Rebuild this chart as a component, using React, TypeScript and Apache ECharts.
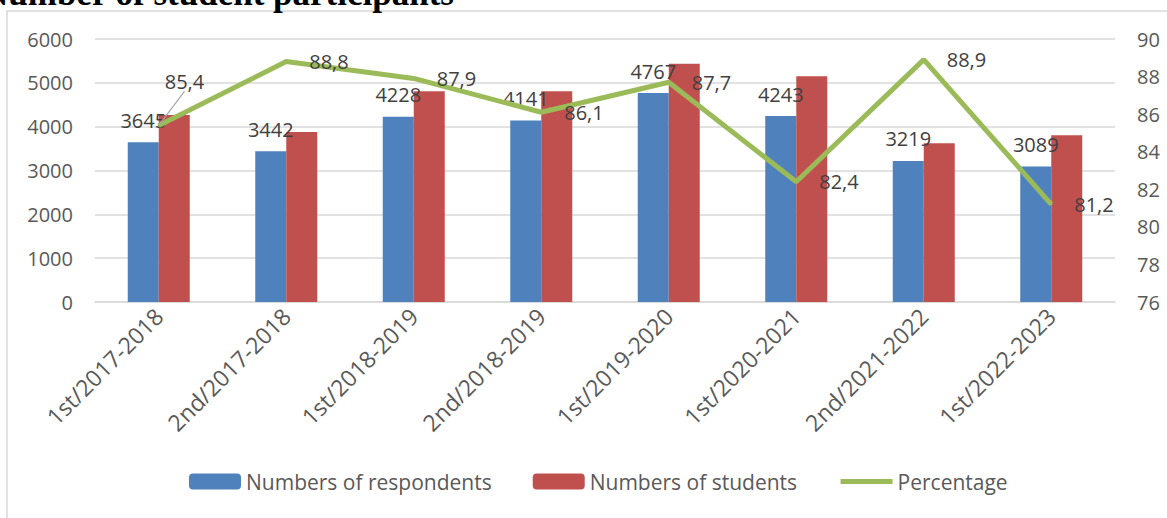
import React, { useEffect, useRef } from "react";
import * as echarts from "echarts";

const categories = [
  "1st/2017-2018",
  "2nd/2017-2018",
  "1st/2018-2019",
  "2nd/2018-2019",
  "1st/2019-2020",
  "1st/2020-2021",
  "2nd/2021-2022",
  "1st/2022-2023",
];
const respondents = [3645, 3442, 4228, 4141, 4767, 4243, 3219, 3089];
const students = [4268, 3876, 4810, 4810, 5436, 5149, 3621, 3804];
const percentage = [85.4, 88.8, 87.9, 86.1, 87.7, 82.4, 88.9, 81.2];
const percentLabelDy = [0, 3, 2, 7, 2, 1, 2, 2];
const leftTicks = { min: 0, max: 6000, interval: 1000 };
const rightTicks = { min: 76, max: 90, interval: 2 };

const FONT = "'Open Sans', 'Noto Sans', sans-serif";
const TXT = "#404040";
const AX = "#595959";

export default function App() {
  const ref = useRef<HTMLDivElement>(null);
  useEffect(() => {
    if (!ref.current) return;
    const chart = echarts.init(ref.current, undefined, { renderer: "svg" });
    const lineData = percentage.map((v, i) => {
      const item: any = {
        value: v,
        label: { offset: [0, percentLabelDy[i]] },
      };
      if (i === 0) {
        item.labelLine = {
          show: true,
          lineStyle: { color: "#a6a6a6", width: 1.2 },
        };
      }
      return item;
    });
    chart.setOption({
      animation: false,
      backgroundColor: "#ffffff",
      textStyle: { fontFamily: FONT },
      title: {
        text: "Number of student participants",
        left: -17,
        top: -24,
        padding: 0,
        textStyle: {
          fontFamily: "'Liberation Serif', 'DejaVu Serif', serif",
          fontWeight: "bold",
          fontSize: 35,
          lineHeight: 35,
          color: "#000000",
        },
      },
      graphic: [
        {
          type: "rect",
          silent: true,
          z: -1,
          shape: { x: 7, y: 11, width: 1300, height: 700 },
          style: { fill: "none", stroke: "#d9d9d9", lineWidth: 1.5 },
        },
      ],
      legend: {
        bottom: 21,
        left: 184,
        itemWidth: 52,
        itemHeight: 16,
        itemGap: 41,
        textStyle: { fontSize: 21, color: AX, fontFamily: FONT },
        data: [
          { name: "Numbers of respondents" },
          { name: "Numbers of students" },
          {
            name: "Percentage",
            itemStyle: { opacity: 0 },
            lineStyle: { width: 5, color: "#9BBB59" },
          },
        ],
      },
      grid: { left: 95, right: 52, top: 39, bottom: 216 },
      xAxis: {
        type: "category",
        data: categories,
        axisLine: { lineStyle: { color: "#d9d9d9", width: 1.5 } },
        axisTick: { show: false },
        axisLabel: {
          rotate: 45,
          fontSize: 23,
          color: AX,
          fontFamily: FONT,
          margin: 10,
          interval: 0,
        },
      },
      yAxis: [
        {
          type: "value",
          min: leftTicks.min,
          max: leftTicks.max,
          interval: leftTicks.interval,
          axisLine: { show: false },
          axisTick: { show: false },
          splitLine: { lineStyle: { color: "#d9d9d9", width: 1.5 } },
          axisLabel: {
            fontSize: 20,
            color: AX,
            fontFamily: FONT,
            margin: 22,
            formatter: (v: number) => String(v),
          },
        },
        {
          type: "value",
          min: rightTicks.min,
          max: rightTicks.max,
          interval: rightTicks.interval,
          axisLine: { show: false },
          axisTick: { show: false },
          splitLine: { show: false },
          axisLabel: {
            fontSize: 20,
            color: AX,
            fontFamily: FONT,
            margin: 22,
            formatter: (v: number) => String(v),
          },
        },
      ],
      series: [
        {
          name: "Numbers of respondents",
          type: "bar",
          data: respondents,
          barWidth: 31,
          barGap: "0%",
          itemStyle: { color: "#4F81BD" },
          label: {
            show: true,
            position: "top",
            distance: 12,
            fontSize: 20,
            color: TXT,
            fontFamily: FONT,
          },
          z: 2,
        },
        {
          name: "Numbers of students",
          type: "bar",
          data: students,
          barWidth: 31,
          itemStyle: { color: "#C0504D" },
          z: 2,
        },
        {
          name: "Percentage",
          type: "line",
          yAxisIndex: 1,
          data: lineData,
          symbol: "circle",
          symbolSize: 2,
          itemStyle: { color: "#9BBB59" },
          lineStyle: { color: "#9BBB59", width: 5 },
          z: 3,
          label: {
            show: true,
            position: "right",
            distance: 22,
            fontSize: 20,
            color: TXT,
            fontFamily: FONT,
            formatter: (p: any) => String(p.value).replace(".", ","),
          },
          labelLayout: (params: any) => {
            if (params.dataIndex === 0) {
              return { dx: -17, dy: -44 };
            }
            return {};
          },
        },
      ],
    });
    return () => chart.dispose();
  }, []);
  return (
    <div
      ref={ref}
      style={{ position: "absolute", left: 0, top: 0, width: 1167, height: 518 }}
    />
  );
}
